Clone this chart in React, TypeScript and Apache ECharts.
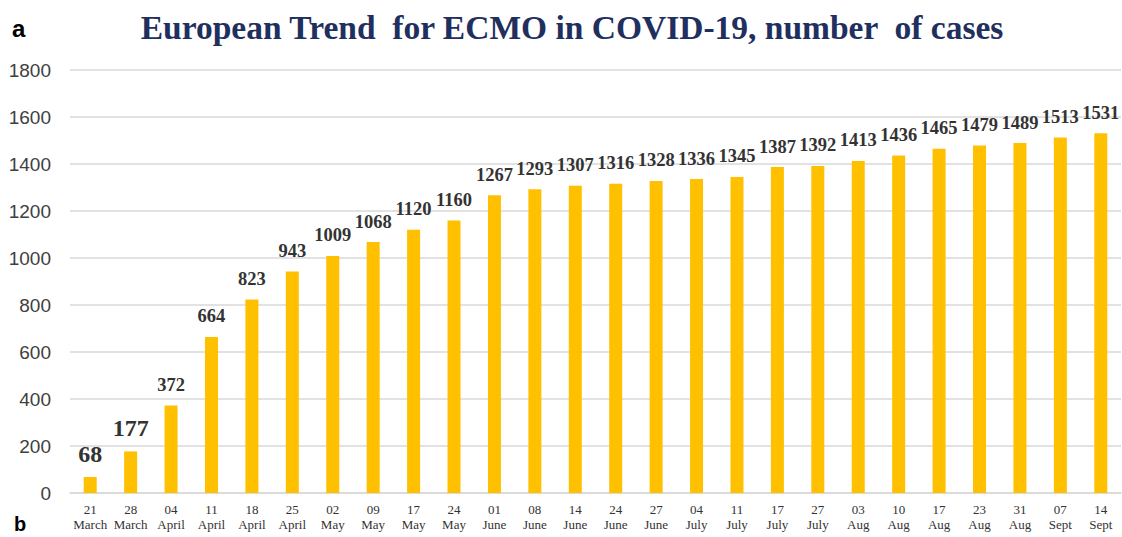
import React, { useEffect, useRef } from "react";
import * as echarts from "echarts";

const days = ["21","28","04","11","18","25","02","09","17","24","01","08","14","24","27","04","11","17","27","03","10","17","23","31","07","14"];
const months = ["March","March","April","April","April","April","May","May","May","May","June","June","June","June","June","July","July","July","July","Aug","Aug","Aug","Aug","Aug","Sept","Sept"];
const cases = [68,177,372,664,823,943,1009,1068,1120,1160,1267,1293,1307,1316,1328,1336,1345,1387,1392,1413,1436,1465,1479,1489,1513,1531];
const yTicks = [0, 200, 400, 600, 800, 1000, 1200, 1400, 1600, 1800];

export default function App() {
  const ref = useRef<HTMLDivElement>(null);
  useEffect(() => {
    if (!ref.current) return;
    const chart = echarts.init(ref.current, null, { renderer: "svg" });
    const categories = days.map((d, i) => d + "\n" + months[i]);
    chart.setOption({
      animation: false,
      title: {
        text: "European Trend  for ECMO in COVID-19, number  of cases",
        left: 567,
        textAlign: "center",
        top: 5,
        textStyle: {
          fontFamily: "Liberation Serif",
          fontWeight: "bold",
          fontSize: 33.5,
          color: "#1F2F5E",
        },
      },
      graphic: [
        {
          type: "text",
          left: 12,
          top: 16,
          style: { text: "a", font: "bold 24px 'Liberation Sans'", fill: "#000" },
        },
        {
          type: "text",
          left: 14,
          top: 514,
          style: { text: "b", font: "bold 20px 'Liberation Sans'", fill: "#000" },
        },
      ],
      grid: { left: 70, right: 1, top: 70, bottom: 44, containLabel: false },
      xAxis: {
        type: "category",
        data: categories,
        axisLine: { lineStyle: { color: "#D9D9D9", width: 1.5 } },
        axisTick: { show: false },
        axisLabel: {
          interval: 0,
          margin: 9,
          fontFamily: "Liberation Serif",
          fontSize: 13,
          lineHeight: 15,
          color: "#333333",
        },
      },
      yAxis: {
        type: "value",
        min: yTicks[0],
        max: yTicks[yTicks.length - 1],
        interval: 200,
        axisLine: { show: false },
        axisTick: { show: false },
        splitLine: { lineStyle: { color: "#D9D9D9", width: 1.5 } },
        axisLabel: {
          margin: 19,
          fontFamily: "Liberation Sans",
          fontSize: 19,
          color: "#404040",
          formatter: (v: number) => String(v),
        },
      },
      series: [
        {
          type: "bar",
          data: cases.map((v, i) => ({
            value: v,
            label: i < 2 ? { fontSize: 24 } : undefined,
          })),
          barWidth: 13,
          itemStyle: { color: "#FFC000" },
          label: {
            show: true,
            position: "top",
            distance: 11,
            fontFamily: "Liberation Serif",
            fontWeight: "bold",
            fontSize: 18.5,
            color: "#333333",
          },
        },
      ],
    });
    return () => chart.dispose();
  }, []);
  return (
    <div
      ref={ref}
      style={{ position: "fixed", left: 0, top: 0, width: 1122, height: 537, background: "#fff" }}
    />
  );
}
